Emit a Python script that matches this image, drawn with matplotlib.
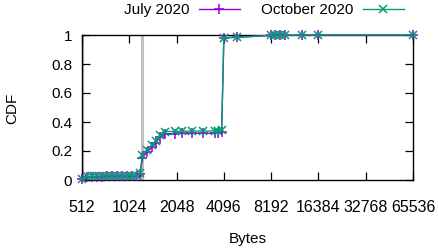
import matplotlib
matplotlib.use("Agg")
import matplotlib.pyplot as plt
from matplotlib.ticker import FixedLocator, NullLocator

plt.rcParams['font.family'] = ['Liberation Sans', 'DejaVu Sans']

# ---- data ----
oct_bytes = [512, 548, 590, 635, 683, 735, 791, 851, 916, 986, 1061, 1141, 1198,
             1241, 1321, 1422, 1508, 1606, 1740, 2000, 2216, 2555, 3030, 3595, 3757,
             3965, 4096, 4960, 8192, 8700, 9300, 10000, 12800, 16384, 65536]
oct_cdf = [0.005, 0.025, 0.026, 0.027, 0.027, 0.028, 0.028, 0.029, 0.029, 0.030,
           0.030, 0.031, 0.045, 0.17, 0.207, 0.241, 0.27, 0.31, 0.333, 0.336, 0.337,
           0.337, 0.338, 0.338, 0.339, 0.345, 0.982, 0.985, 0.997, 0.998, 0.998,
           0.999, 0.999, 1.0, 1.0]

jul_bytes = [512, 548, 590, 635, 683, 735, 791, 851, 916, 986, 1061, 1141, 1198,
             1241, 1321, 1422, 1508, 1606, 1740, 2000, 2216, 2555, 3030, 3595, 3757,
             3965, 4096, 4960, 8192, 8700, 9300, 10000, 12800, 16384, 65536]
jul_cdf = [0.004, 0.022, 0.023, 0.024, 0.024, 0.025, 0.025, 0.026, 0.026, 0.027,
           0.027, 0.028, 0.040, 0.155, 0.19, 0.225, 0.255, 0.295, 0.318, 0.320, 0.321,
           0.321, 0.322, 0.322, 0.323, 0.33, 0.980, 0.984, 0.997, 0.998, 0.998,
           0.999, 0.999, 1.0, 1.0]

ref_lines = [512, 1232]
xticks = [512, 1024, 2048, 4096, 8192, 16384, 32768, 65536]
yticks = [0, 0.2, 0.4, 0.6, 0.8, 1]
ytick_labels = ['0', '0.2', '0.4', '0.6', '0.8', '1']

W, H = 439, 252
fig = plt.figure(figsize=(W / 100, H / 100), dpi=100)
ax = fig.add_axes([82 / W, 1 - 180 / H, (413 - 82) / W, (180 - 35) / H])

for r in ref_lines:
    ax.axvline(r, color='#c0c0c0', lw=2.2, zorder=1)

purple = '#9400D3'
green = '#009E73'
ax.plot(jul_bytes, jul_cdf, color=purple, lw=1.0, marker='+', ms=7, mew=1.1,
        label='July 2020', zorder=6, clip_on=False)
ax.plot(oct_bytes, oct_cdf, color=green, lw=1.0, marker='x', ms=6, mew=1.1,
        label='October 2020', zorder=7, clip_on=False)

ax.set_xscale('log', base=2)
ax.set_xlim(512, 65536)
ax.set_ylim(0, 1)
ax.xaxis.set_major_locator(FixedLocator(xticks))
ax.xaxis.set_minor_locator(NullLocator())
ax.set_xticklabels([str(t) for t in xticks])
ax.set_yticks(yticks)
ax.set_yticklabels(ytick_labels)

ax.tick_params(axis='both', which='both', direction='in', top=True, right=True,
               length=6, width=0.9, colors='black')
ax.tick_params(axis='x', pad=14.5, labelsize=11.5)
ax.tick_params(axis='y', pad=7, labelsize=11)
for s in ax.spines.values():
    s.set_linewidth(1.0)
    s.set_zorder(5)

fig.text(247.5 / W, 1 - 239 / H, 'Bytes', ha='center', va='center', fontsize=11)
fig.text(12.5 / W, 1 - 108 / H, 'CDF', ha='center', va='center', fontsize=11,
         rotation=90)

fig.legend(loc='center right', bbox_to_anchor=(404 / W, 1 - 10 / H), ncol=2,
           frameon=False, markerfirst=False, fontsize=11, handlelength=2.7,
           handletextpad=0.6, columnspacing=1.4, borderpad=0, borderaxespad=0)

fig.savefig('out.png', dpi=100)
